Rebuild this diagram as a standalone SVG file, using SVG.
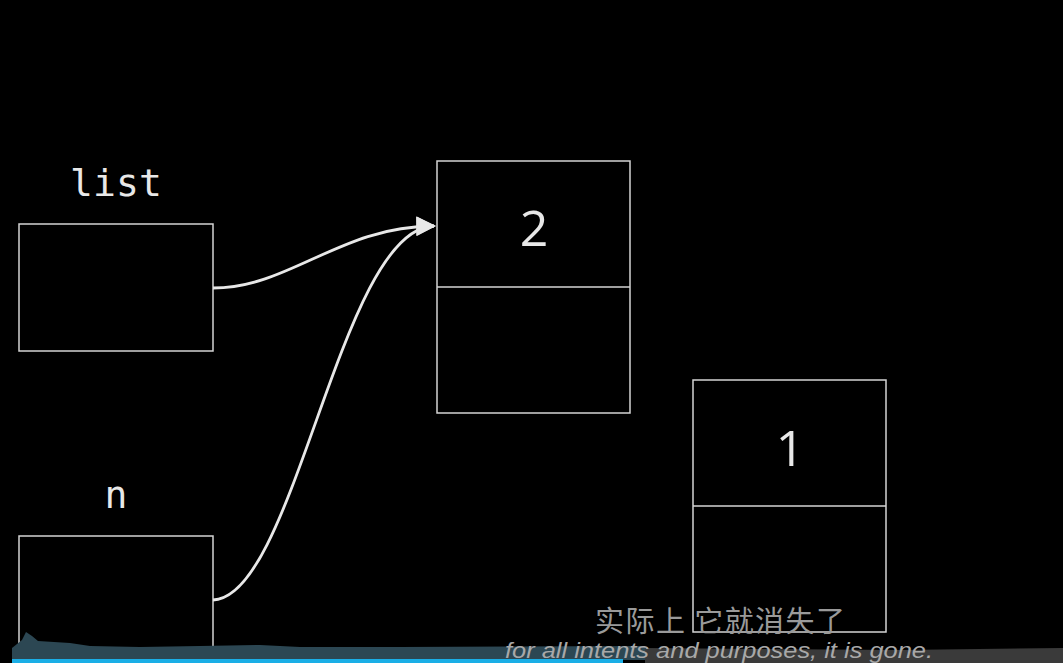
<svg xmlns="http://www.w3.org/2000/svg" width="1063" height="663" viewBox="0 0 1063 663">
<defs>
<style>
.box{fill:none;stroke:#d4d4d4;stroke-width:1.5}
.lbl{font-family:"DejaVu Sans Mono","Liberation Mono",monospace;font-size:38px;fill:#e8e8e8;text-anchor:middle}
.val{font-family:"Open Sans","Noto Sans",sans-serif;font-size:50px;fill:#e8e8e8;text-anchor:middle}
.conn{fill:none;stroke:#e8e8e8;stroke-width:2.8}
</style>
<marker id="ah" viewBox="0 0 10 10" refX="9" refY="5" markerWidth="7.5" markerHeight="7" orient="auto" markerUnits="strokeWidth">
<path d="M0,0 L10,5 L0,10 Z" fill="#e8e8e8"/>
</marker>
</defs>
<rect width="1063" height="663" fill="#000"/>
<g id="list">
<text class="lbl" x="116" y="196" textLength="92">list</text>
<rect class="box" x="19" y="224" width="194" height="127"/>
</g>
<g id="n">
<text class="lbl" x="116" y="508">n</text>
<rect class="box" x="19" y="536" width="194" height="150"/>
</g>
<g id="node2">
<rect class="box" x="437" y="161" width="193" height="252"/>
<line class="box" x1="437" y1="287" x2="630" y2="287"/>
<text class="val" x="534" y="246">2</text>
</g>
<g id="node1">
<rect class="box" x="693" y="380" width="193" height="252"/>
<line class="box" x1="693" y1="506" x2="886" y2="506"/>
<text class="val" x="790" y="466">1</text>
</g>
<g id="connectors">
<path class="conn" d="M213,288 C290,288 340,226 434,226" marker-end="url(#ah)"/>
<path class="conn" d="M213,600 C295,598 340,228 434,226" marker-end="url(#ah)"/>
</g>
<g id="player">
<path d="M12,660 L12,648 L22,640 L26,632 L32,636 L38,641 L70,643 L90,646 L140,647 L200,646 L260,645 L300,647 L400,647 L645,646 L645,660 Z" fill="#2c4753"/>
<path d="M645,660 L645,648 L760,649 L900,650 L1063,648 L1063,663 L645,663 Z" fill="#3a3a3a"/>
<rect x="12" y="659" width="611" height="4" fill="#1aaee6"/>
<text x="595" y="632" font-family="'Noto Sans CJK SC',sans-serif" font-size="29" fill="#9a9a9a" textLength="250" lengthAdjust="spacing">实际上 它就消失了</text>
<text x="505" y="658" font-family="'Liberation Sans',Arial,sans-serif" font-style="italic" font-size="22" fill="#a8a8a8" textLength="428" lengthAdjust="spacingAndGlyphs">for all intents and purposes, it is gone.</text>
</g>
</svg>
